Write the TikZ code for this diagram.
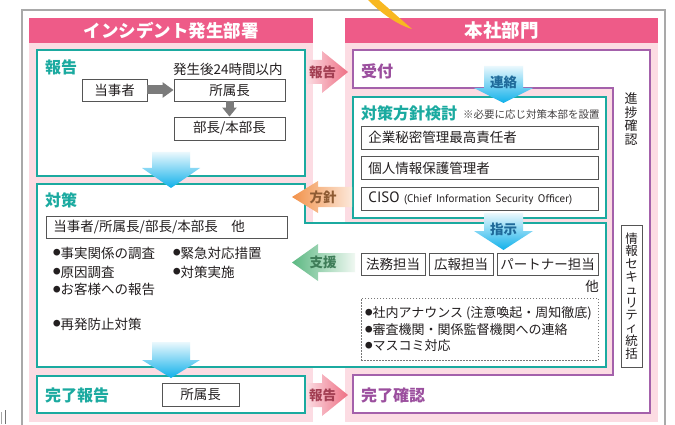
\documentclass[tikz,border=0pt]{standalone}
\usepackage{fontspec}
\setmainfont{Noto Sans CJK JP}
\newfontfamily\latfont{PT Sans}
\usetikzlibrary{arrows.meta}
\newcommand{\fsz}[1]{\fontsize{#1}{#1}\selectfont}
\newcommand{\bul}[1]{\raisebox{#1}{\fontsize{7.5}{7.5}\selectfont ●}}
\definecolor{hdrpink}{HTML}{EE5B88}
\definecolor{bgpink}{HTML}{FCDCE3}
\definecolor{teal1}{HTML}{1BAAA0}
\definecolor{purp}{HTML}{A461AB}
\definecolor{purptext}{HTML}{9B4F9E}
\definecolor{framegray}{HTML}{A9A9A9}
\definecolor{boxline}{HTML}{555555}
\definecolor{txt}{HTML}{231F20}
\definecolor{bluetop}{HTML}{EAF8FD}
\definecolor{bluebot}{HTML}{0FB0EA}
\definecolor{bluetext}{HTML}{1F6A9A}
\definecolor{redtext}{HTML}{A23E52}
\definecolor{pinkL}{HTML}{FBDDE3}
\definecolor{pinkR}{HTML}{EE6F84}
\definecolor{orangeL}{HTML}{F2924A}
\definecolor{orangeR}{HTML}{FCE8DA}
\definecolor{orangetext}{HTML}{8E5B33}
\definecolor{greenL}{HTML}{5CB882}
\definecolor{greenR}{HTML}{F0F8F2}
\definecolor{greentext}{HTML}{3E7D58}
\definecolor{yel}{HTML}{F8B821}
\definecolor{grayarr}{HTML}{7B7B7B}
\begin{document}
\begin{tikzpicture}[x=1pt,y=-1pt,
  every node/.style={inner sep=0pt, text=txt},
  hdrbox/.style={fill=hdrpink, text=white, font=\bfseries\fsz{17.5}},
  ttlT/.style={anchor=west, text=teal1, font=\bfseries\fsz{16}},
  ttlP/.style={anchor=west, text=purptext, font=\bfseries\fsz{16}},
  lbl/.style={anchor=west, font=\fsz{13.5}},
  lbltwo/.style={anchor=west, font=\fsz{13}},
  notetxt/.style={anchor=west, font=\fsz{10.5}, text=txt!85},
  ibox/.style={draw=boxline, line width=0.9pt, fill=white, font=\fsz{13.5}},
  wbox/.style={ibox, anchor=west, text width=223pt, align=left, inner xsep=7pt, minimum height=23pt},
  tealbox/.style={draw=teal1, line width=1.3pt, fill=white},
  purpbox/.style={draw=purp, line width=1.3pt, fill=white},
  dotbox/.style={draw=boxline!80, line width=0.8pt, dash pattern=on 1.5pt off 1.5pt},
  arrtxt/.style={font=\bfseries\fsz{13.5}},
  bluearr/.style={top color=bluetop, bottom color=bluebot},
  grayarrow/.style={draw=grayarr, line width=9pt, -{Triangle[width=15pt,length=11pt]}},
  grayarrowv/.style={draw=grayarr, line width=8pt, -{Triangle[width=14pt,length=9pt]}}
]
\useasboundingbox (0,0) rectangle (675,425);
% outer frame
\draw[draw=framegray, line width=1.5pt] (22,440) -- (22,10) -- (665,10) -- (665,440);
\draw[draw=gray!70, line width=1.1pt] (1.8,412) -- (1.8,424);
\draw[draw=gray!90!black, line width=1.6pt] (5.5,410) -- (5.5,424);
% section backgrounds
\fill[bgpink] (29,18) rectangle (313,422);
\fill[bgpink] (345,18) rectangle (658,422);
\node[hdrbox, minimum width=284pt, minimum height=25pt] (hdrL) at (171,30.5) {インシデント発生部署};
\node[hdrbox, minimum width=313pt, minimum height=25pt, font=\bfseries\fsz{18.5}] (hdrR) at (501.5,30.5) {本社部門};
% teal and purple frames
\draw[tealbox] (37,50) rectangle (305,176);
\draw[tealbox] (37,184) -- (305,184) -- (305,223) -- (606,223) -- (606,367) -- (37,367) -- cycle;
\draw[tealbox] (37,376) rectangle (305,413);
\draw[purpbox] (353,50) -- (650,50) -- (650,413) -- (353,413) -- (353,375) -- (613,375) -- (613,88) -- (353,88) -- cycle;
\draw[tealbox] (353,97) rectangle (606,218);
% left: report
\node[ttlT] (thokoku) at (45,67.5) {報告};
\node[lbl] (t24h) at (173,69) {発生後24時間以内};
\node[ibox, minimum width=65pt, minimum height=22pt] (tojisha) at (114.5,90) {当事者};
\node[ibox, minimum width=111pt, minimum height=22pt] (shozoku) at (229.5,90) {所属長};
\node[ibox, minimum width=111pt, minimum height=23pt] (bucho) at (229.5,128.5) {部長/本部長};
\draw[grayarrow] (tojisha.east) -- (shozoku.west);
\draw[grayarrowv] (shozoku.south) -- (bucho.north);
% left: countermeasures
\node[ttlT] (ttaisaku) at (45,200) {対策};
\node[ibox, anchor=west, text width=227pt, align=left, inner xsep=7pt, minimum height=22pt] (members) at (46,227) {当事者/所属長/部長/本部長　他};
\node[lbl] (bone) at (53,253) {\bul{2.2pt}事実関係の調査};
\node[lbl] (btwo) at (53,272) {\bul{2.2pt}原因調査};
\node[lbl] (bthree) at (53,289.5) {\bul{2.2pt}お客様への報告};
\node[lbl] (bfour) at (53,324) {\bul{2.2pt}再発防止対策};
\node[lbl] (bfive) at (173,253) {\bul{2.2pt}緊急対応措置};
\node[lbl] (bsix) at (173,272) {\bul{2.2pt}対策実施};
% left: completion
\node[ttlT] (tkanryo) at (45,395) {完了報告};
\node[ibox, minimum width=77pt, minimum height=23pt] (shozokutwo) at (200.5,394.5) {所属長};
% right side
\node[ttlP] (tuketsuke) at (361,71) {受付};
\node[ttlT] (thoshin) at (361,113.5) {対策方針検討};
\node[notetxt] (tnote) at (463,115) {※必要に応じ対策本部を設置};
\node[wbox] (kigyo) at (361,137.5) {企業秘密管理最高責任者};
\node[wbox] (kojin) at (361,168) {個人情報保護管理者};
\node[wbox] (ciso) at (361,198.5) {{\latfont\fsz{15}CISO} {\latfont\fsz{11}(Chief Information Security Officer)}};
\node[ibox, minimum width=64pt, minimum height=22pt] (homu) at (393,264) {法務担当};
\node[ibox, minimum width=64pt, minimum height=22pt] (koho) at (461,264) {広報担当};
\node[ibox, minimum width=101pt, minimum height=22pt] (partner) at (547.5,264) {パートナー担当};
\node[lbl, anchor=center] (hoka) at (592,286) {他};
\node[dotbox, minimum width=237pt, minimum height=62pt] (announce) at (479.5,329) {};
\node[lbltwo] (done) at (365,313) {\bul{2pt}社内アナウンス (注意喚起・周知徹底)};
\node[lbltwo] (dtwo) at (365,330) {\bul{2pt}審査機関・関係監督機関への連絡};
\node[lbltwo] (dthree) at (365,346) {\bul{2pt}マスコミ対応};
\node[ttlP] (tkakunin) at (361,395) {完了確認};
\node[align=center, font=\fontsize{13}{13.6}\selectfont] (shinchoku) at (631,119) {進\\捗\\確\\認};
\node[ibox, minimum width=21pt, minimum height=142pt, align=center, font=\fontsize{12.5}{12.8}\selectfont] (joho) at (631.5,296) {情\\報\\セ\\キ\\ュ\\リ\\テ\\ィ\\統\\括};
% blue down arrows
\shade[bluearr] (152,152) -- (190,152) -- (190,168) -- (200,168) -- (171,188) -- (142,168) -- (152,168) -- cycle;
\shade[bluearr] (152,342) -- (190,342) -- (190,360) -- (200,360) -- (171,378) -- (142,360) -- (152,360) -- cycle;
\shade[bluearr] (484,66) -- (523,66) -- (523,88) -- (533,88) -- (503.5,103) -- (474,88) -- (484,88) -- cycle;
\node[arrtxt, text=bluetext] (renraku) at (503.5,82) {連絡};
\shade[bluearr] (484,213) -- (523,213) -- (523,231) -- (533,231) -- (503.5,250) -- (474,231) -- (484,231) -- cycle;
\node[arrtxt, text=bluetext] (shiji) at (503.5,229) {指示};
% pink report arrows
\shade[left color=pinkL, right color=pinkR] (306,60) -- (322,60) -- (322,51) -- (348,72) -- (322,93) -- (322,84) -- (306,84) -- cycle;
\node[arrtxt, text=redtext] (hokokua) at (322.5,72) {報告};
\shade[left color=pinkL, right color=pinkR] (306,383) -- (322,383) -- (322,374) -- (348,395) -- (322,416) -- (322,407) -- (306,407) -- cycle;
\node[arrtxt, text=redtext] (hokokub) at (322.5,395) {報告};
% policy and support arrows
\shade[left color=orangeL, right color=orangeR] (352,187) -- (318,187) -- (318,181) -- (292,197) -- (318,213) -- (318,207) -- (352,207) -- cycle;
\node[arrtxt, text=orangetext] (hoshin) at (323,197) {方針};
\shade[left color=greenL, right color=greenR] (355,253) -- (318,253) -- (318,244) -- (292,262.5) -- (318,281) -- (318,272) -- (355,272) -- cycle;
\node[arrtxt, text=greentext] (shien) at (323,262.5) {支援};
% yellow wedge
\fill[yel] (368,0) .. controls (382,14) and (398,25) .. (412,29) -- (379,0) -- cycle;
\end{tikzpicture}
\end{document}
